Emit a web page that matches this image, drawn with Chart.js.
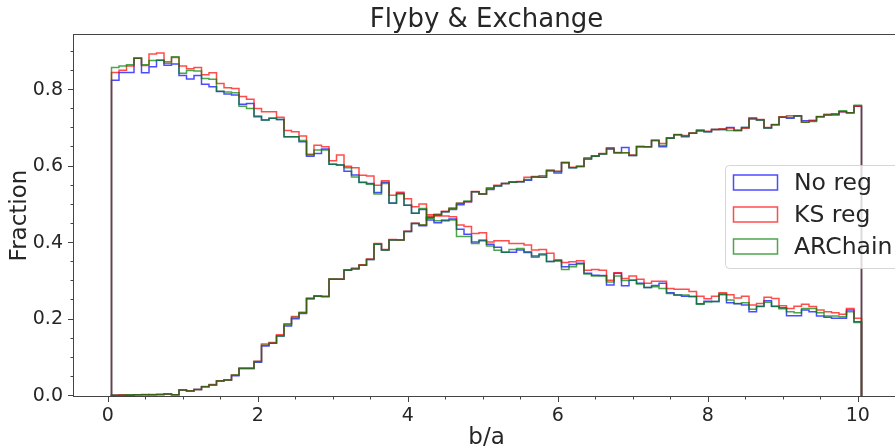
<!DOCTYPE html>
<html>
<head>
<meta charset="utf-8">
<title>Flyby & Exchange</title>
<script src="https://cdn.jsdelivr.net/npm/chart.js@4.4.1/dist/chart.umd.min.js"></script>
<style>
  html, body { margin: 0; padding: 0; background: #fff; overflow: hidden; }
  #wrap { width: 910px; height: 448px; }
</style>
</head>
<body>
<div id="wrap"><canvas id="chart" width="910" height="448"></canvas></div>
<script>
// histogram bins: 100 bins of width 0.1 starting at b/a = 0.05
const BIN_START = 0.05;
const BIN_WIDTH = 0.1;
const BIN_COUNT = 100;

const labels = ["No reg", "KS reg", "ARChain"];
const colors = ["rgba(0, 0, 255, 0.7)", "rgba(255, 0, 0, 0.7)", "rgba(0, 128, 0, 0.7)"];
const xTicks = [0, 2, 4, 6, 8, 10];
const yTicks = [0, 0.2, 0.4, 0.6, 0.8];

const flybyNoReg = [
  0.826, 0.846, 0.846, 0.883, 0.845, 0.861, 0.878, 0.865, 0.868, 0.838,
  0.829, 0.838, 0.815, 0.809, 0.796, 0.790, 0.787, 0.763, 0.765, 0.730,
  0.722, 0.726, 0.723, 0.678, 0.678, 0.665, 0.627, 0.634, 0.646, 0.606,
  0.604, 0.588, 0.578, 0.558, 0.556, 0.532, 0.559, 0.505, 0.530, 0.499,
  0.478, 0.488, 0.460, 0.453, 0.458, 0.463, 0.436, 0.423, 0.403, 0.406,
  0.397, 0.389, 0.376, 0.376, 0.382, 0.375, 0.366, 0.371, 0.352, 0.354,
  0.338, 0.344, 0.347, 0.321, 0.316, 0.315, 0.290, 0.321, 0.288, 0.303,
  0.295, 0.284, 0.289, 0.295, 0.270, 0.264, 0.261, 0.260, 0.241, 0.248,
  0.247, 0.267, 0.244, 0.241, 0.238, 0.220, 0.234, 0.249, 0.235, 0.231,
  0.210, 0.210, 0.225, 0.220, 0.209, 0.206, 0.203, 0.203, 0.225, 0.194
];
const flybyKS = [
  0.846, 0.852, 0.863, 0.883, 0.864, 0.894, 0.897, 0.874, 0.885, 0.863,
  0.856, 0.859, 0.840, 0.845, 0.817, 0.806, 0.804, 0.783, 0.776, 0.752,
  0.743, 0.743, 0.729, 0.694, 0.691, 0.680, 0.632, 0.656, 0.652, 0.615,
  0.630, 0.601, 0.597, 0.577, 0.575, 0.551, 0.563, 0.525, 0.533, 0.516,
  0.495, 0.502, 0.474, 0.471, 0.471, 0.469, 0.447, 0.443, 0.425, 0.427,
  0.403, 0.406, 0.406, 0.399, 0.399, 0.395, 0.382, 0.383, 0.373, 0.356,
  0.349, 0.351, 0.354, 0.329, 0.331, 0.329, 0.303, 0.322, 0.307, 0.314,
  0.305, 0.295, 0.300, 0.300, 0.281, 0.279, 0.279, 0.273, 0.261, 0.254,
  0.261, 0.270, 0.265, 0.256, 0.261, 0.238, 0.242, 0.258, 0.255, 0.236,
  0.229, 0.235, 0.240, 0.234, 0.225, 0.220, 0.218, 0.214, 0.229, 0.203
];
const flybyARChain = [
  0.859, 0.863, 0.866, 0.883, 0.866, 0.877, 0.878, 0.870, 0.887, 0.844,
  0.851, 0.850, 0.830, 0.828, 0.797, 0.795, 0.793, 0.758, 0.752, 0.732,
  0.722, 0.726, 0.723, 0.678, 0.678, 0.668, 0.630, 0.643, 0.643, 0.606,
  0.604, 0.597, 0.573, 0.559, 0.554, 0.528, 0.556, 0.504, 0.528, 0.499,
  0.478, 0.490, 0.465, 0.458, 0.460, 0.460, 0.417, 0.417, 0.399, 0.408,
  0.392, 0.381, 0.376, 0.383, 0.386, 0.377, 0.363, 0.369, 0.352, 0.354,
  0.331, 0.338, 0.345, 0.319, 0.314, 0.314, 0.298, 0.314, 0.302, 0.303,
  0.293, 0.284, 0.286, 0.281, 0.268, 0.264, 0.264, 0.260, 0.240, 0.246,
  0.247, 0.265, 0.251, 0.242, 0.244, 0.227, 0.235, 0.245, 0.234, 0.228,
  0.220, 0.218, 0.229, 0.229, 0.218, 0.209, 0.209, 0.207, 0.220, 0.192
];

const exchangeNoReg = [
  0.002, 0.002, 0.002, 0.003, 0.003, 0.003, 0.004, 0.005, 0.003, 0.016,
  0.013, 0.017, 0.024, 0.029, 0.039, 0.042, 0.053, 0.072, 0.072, 0.088,
  0.131, 0.138, 0.157, 0.183, 0.202, 0.216, 0.254, 0.261, 0.260, 0.305,
  0.305, 0.329, 0.334, 0.342, 0.357, 0.397, 0.382, 0.408, 0.408, 0.430,
  0.451, 0.445, 0.467, 0.473, 0.482, 0.488, 0.500, 0.508, 0.534, 0.528,
  0.540, 0.549, 0.556, 0.559, 0.560, 0.564, 0.573, 0.572, 0.589, 0.583,
  0.610, 0.597, 0.600, 0.620, 0.627, 0.633, 0.647, 0.636, 0.650, 0.629,
  0.652, 0.652, 0.668, 0.652, 0.674, 0.683, 0.678, 0.687, 0.695, 0.691,
  0.697, 0.697, 0.702, 0.694, 0.702, 0.726, 0.722, 0.701, 0.709, 0.729,
  0.726, 0.732, 0.720, 0.720, 0.730, 0.735, 0.735, 0.743, 0.741, 0.758
];
const exchangeKS = [
  0.002, 0.003, 0.002, 0.003, 0.003, 0.004, 0.004, 0.005, 0.003, 0.016,
  0.014, 0.017, 0.025, 0.030, 0.040, 0.042, 0.055, 0.073, 0.073, 0.091,
  0.136, 0.140, 0.160, 0.189, 0.208, 0.219, 0.256, 0.262, 0.260, 0.306,
  0.306, 0.330, 0.332, 0.343, 0.358, 0.399, 0.383, 0.409, 0.408, 0.431,
  0.452, 0.447, 0.470, 0.475, 0.483, 0.491, 0.504, 0.508, 0.535, 0.528,
  0.544, 0.551, 0.556, 0.560, 0.561, 0.572, 0.574, 0.576, 0.589, 0.588,
  0.611, 0.598, 0.601, 0.623, 0.628, 0.634, 0.649, 0.637, 0.636, 0.630,
  0.653, 0.652, 0.669, 0.660, 0.675, 0.684, 0.681, 0.688, 0.692, 0.692,
  0.697, 0.699, 0.701, 0.695, 0.700, 0.727, 0.723, 0.702, 0.710, 0.730,
  0.733, 0.733, 0.716, 0.721, 0.731, 0.737, 0.738, 0.743, 0.741, 0.758
];
const exchangeARChain = [
  0.002, 0.002, 0.003, 0.003, 0.004, 0.003, 0.004, 0.005, 0.003, 0.016,
  0.013, 0.017, 0.024, 0.029, 0.039, 0.042, 0.055, 0.072, 0.072, 0.090,
  0.133, 0.138, 0.157, 0.186, 0.205, 0.218, 0.254, 0.261, 0.260, 0.306,
  0.305, 0.329, 0.332, 0.342, 0.357, 0.397, 0.382, 0.408, 0.408, 0.430,
  0.451, 0.447, 0.467, 0.473, 0.482, 0.491, 0.504, 0.510, 0.534, 0.528,
  0.543, 0.549, 0.556, 0.559, 0.560, 0.566, 0.573, 0.572, 0.591, 0.587,
  0.610, 0.597, 0.600, 0.620, 0.627, 0.633, 0.645, 0.636, 0.636, 0.629,
  0.652, 0.652, 0.668, 0.655, 0.674, 0.683, 0.680, 0.687, 0.695, 0.691,
  0.697, 0.697, 0.694, 0.694, 0.702, 0.724, 0.722, 0.701, 0.709, 0.729,
  0.728, 0.732, 0.716, 0.718, 0.730, 0.735, 0.737, 0.746, 0.741, 0.760
];

const FONT = "'DejaVu Sans', sans-serif";
const TEXT = "#262626";
const SPINE = "#444";

const edges = Array.from({ length: BIN_COUNT + 1 }, (_, i) => +(BIN_START + i * BIN_WIDTH).toFixed(2));

// outline of a step histogram: up from zero at the first edge, back to zero at the last
function stepPoints(values) {
  const pts = [{ x: edges[0], y: 0 }];
  values.forEach((v, i) => pts.push({ x: edges[i], y: v }));
  pts.push({ x: edges[BIN_COUNT], y: values[values.length - 1] });
  pts.push({ x: edges[BIN_COUNT], y: 0 });
  return pts;
}

const groups = [
  [flybyNoReg, exchangeNoReg],
  [flybyKS, exchangeKS],
  [flybyARChain, exchangeARChain]
];
const datasets = [];
groups.forEach((pair, g) => {
  pair.forEach((values) => {
    datasets.push({
      label: labels[g],
      data: stepPoints(values),
      stepped: true,
      borderColor: colors[g],
      borderWidth: 1.5,
      pointRadius: 0,
      fill: false,
      order: 3 - g
    });
  });
});

const frame = {
  id: "frame",
  afterDraw(chart) {
    const { ctx, chartArea: a, scales: { x, y } } = chart;
    ctx.save();
    ctx.strokeStyle = SPINE;
    ctx.lineWidth = 1;
    ctx.strokeRect(a.left - 0.5, a.top - 0.5, a.right - a.left + 1, a.bottom - a.top + 1);
    // tick marks, majors longer than minors
    ctx.beginPath();
    for (let v = 0; v <= 10.5; v += 0.5) {
      const px = Math.round(x.getPixelForValue(v)) + 0.5;
      const len = xTicks.includes(+v.toFixed(1)) ? 6 : 3.5;
      ctx.moveTo(px, a.bottom);
      ctx.lineTo(px, a.bottom + len);
    }
    for (let i = 0; i <= 18; i++) {
      const py = Math.round(y.getPixelForValue(i * 0.05)) - 0.5;
      const len = i % 4 === 0 ? 6 : 3.5;
      ctx.moveTo(a.left, py);
      ctx.lineTo(a.left - len, py);
    }
    ctx.stroke();

    // title
    ctx.fillStyle = TEXT;
    ctx.font = "26px " + FONT;
    ctx.textAlign = "center";
    ctx.textBaseline = "middle";
    ctx.fillText("Flyby & Exchange", (a.left + a.right) / 2, 20);

    // legend
    const lx = 725, ly = 165, lw = 200, lh = 103;
    ctx.beginPath();
    ctx.roundRect(lx + 0.5, ly + 0.5, lw, lh, 4);
    ctx.fillStyle = "rgba(255, 255, 255, 0.8)";
    ctx.fill();
    ctx.strokeStyle = "rgba(204, 204, 204, 0.8)";
    ctx.stroke();
    ctx.font = "23.5px " + FONT;
    ctx.textAlign = "left";
    labels.forEach((name, i) => {
      const cy = 182.5 + i * 32;
      ctx.strokeStyle = colors[i];
      ctx.lineWidth = 1.5;
      ctx.strokeRect(733.5, cy - 7.5, 44, 15);
      ctx.fillStyle = TEXT;
      ctx.fillText(name, 794, cy + 1);
    });
    ctx.restore();
  }
};

new Chart(document.getElementById("chart"), {
  type: "line",
  data: { datasets },
  options: {
    responsive: false,
    animation: false,
    layout: { padding: { top: 35, right: 11, left: 0, bottom: 0 } },
    plugins: { legend: { display: false }, tooltip: { enabled: false }, title: { display: false } },
    scales: {
      x: {
        type: "linear",
        min: -0.45,
        max: 10.55,
        grid: { display: false, drawTicks: false },
        border: { display: false },
        afterBuildTicks: (axis) => { axis.ticks = xTicks.map((v) => ({ value: v })); },
        afterFit: (axis) => { axis.height = 52; },
        ticks: { color: TEXT, padding: 9, font: { family: FONT, size: 19 }, callback: (v) => String(v) },
        title: { display: true, text: "b/a", color: TEXT, font: { family: FONT, size: 23, lineHeight: 0.85 }, padding: { top: 0, bottom: 0 } }
      },
      y: {
        type: "linear",
        min: 0,
        max: 0.944,
        grid: { display: false, drawTicks: false },
        border: { display: false },
        afterBuildTicks: (axis) => { axis.ticks = yTicks.map((v) => ({ value: v })); },
        afterFit: (axis) => { axis.width = 74; },
        ticks: { color: TEXT, padding: 11, font: { family: FONT, size: 19 }, callback: (v) => v.toFixed(1) },
        title: { display: true, text: "Fraction", color: TEXT, font: { family: FONT, size: 23 }, padding: { top: 6, bottom: 0 } }
      }
    }
  },
  plugins: [frame]
});
</script>
</body>
</html>
